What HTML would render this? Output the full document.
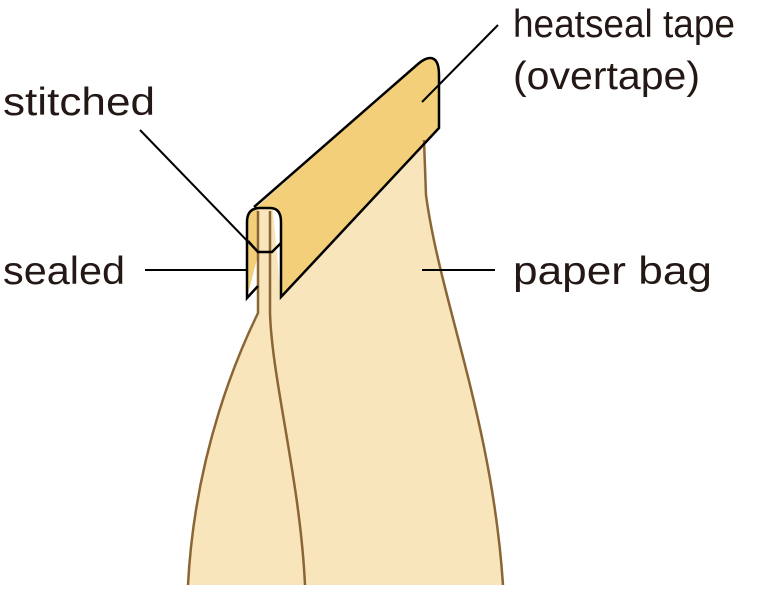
<!DOCTYPE html>
<html><head><meta charset="utf-8"><style>
html,body{margin:0;padding:0;background:#fff;}
svg{display:block;}
text{font-family:"Liberation Sans",sans-serif;font-size:39px;fill:#231815;}
</style></head><body>
<svg width="759" height="589" viewBox="0 0 759 589" xmlns="http://www.w3.org/2000/svg">
<!-- bag fill -->
<path d="M258,240 L258,313 C240,350 195,450 188,585 L503,585 C490,420 440,300 426,200 L424,140 L281,297 L272,200 Z" fill="#f9e5bb"/>
<!-- tape fill -->
<path d="M247,298 L247,222 Q247,208 258,206 L420,62 Q430,56 434,58 Q439,62 439,75 L439,128 L281,297 L281,222 Q281,208 270,208 Z" fill="#f3cf7a"/>
<!-- bag strip visible inside U -->
<rect x="258" y="209" width="12" height="100" fill="#f9e5bb"/>
<path d="M246,300 L258,286 L258,312 L246,312 Z" fill="#fff"/>
<!-- bag outlines -->
<g fill="none" stroke="#8a6535" stroke-width="2.5">
<path d="M258,211 L258,313 C240,350 195,450 188,585"/>
<path d="M270,211 L270,313 C272,380 300,480 305,585"/>
<path d="M424,140 L426,195 C440,300 492,420 503,585"/>
</g>
<!-- tape outline -->
<g stroke="#000" stroke-width="2.5" fill="none" stroke-linejoin="miter">
<path d="M258,286 L247,298 L247,222 Q247,208 260,208 L270,208 Q281,208 281,222 L281,297 L439,128 L439,75 Q439,58 430,58 Q425,58 418,64 L254,207"/>
<path d="M248,241 L258,252 L272,252 L281,243"/>
</g>
<!-- leaders -->
<g stroke="#000" stroke-width="2">
<line x1="140" y1="130" x2="256" y2="250"/>
<line x1="145" y1="270" x2="246" y2="270"/>
<line x1="422" y1="270" x2="495" y2="270"/>
<line x1="422" y1="102" x2="498" y2="25"/>
</g>
<text x="513" y="37" textLength="222" lengthAdjust="spacingAndGlyphs">heatseal tape</text>
<text x="513" y="89" textLength="187" lengthAdjust="spacingAndGlyphs">(overtape)</text>
<text x="3" y="115" textLength="152" lengthAdjust="spacingAndGlyphs">stitched</text>
<text x="3" y="284" textLength="122" lengthAdjust="spacingAndGlyphs">sealed</text>
<text x="513" y="284" textLength="199" lengthAdjust="spacingAndGlyphs">paper bag</text>
</svg>
</body></html>
